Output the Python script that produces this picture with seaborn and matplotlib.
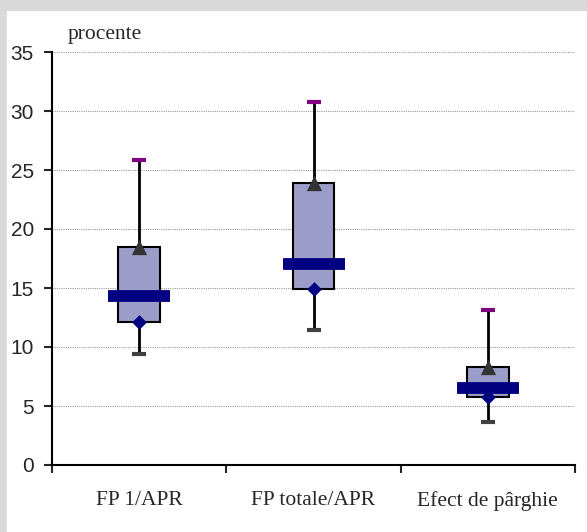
import seaborn as sns
import matplotlib.pyplot as plt
import pandas as pd
from matplotlib.patches import Rectangle
from matplotlib.ticker import FixedLocator

# five-number summaries (procente)
categories = ["FP 1/APR", "FP totale/APR", "Efect de pârghie"]
minimum = [9.4, 11.45, 3.65]
q1 = [12.1, 14.9, 5.8]
median = [14.3, 17.0, 6.5]
q3 = [18.45, 23.9, 8.3]
maximum = [25.85, 30.75, 13.1]
yticks = [0, 5, 10, 15, 20, 25, 30, 35]

# long table: the five numbers per category give exactly these quartiles
rows = []
for i, cat in enumerate(categories):
    for v in (minimum[i], q1[i], median[i], q3[i], maximum[i]):
        rows.append({"cat": cat, "val": v})
df = pd.DataFrame(rows)

sns.set_style('white')

fig = plt.figure(figsize=(5.87, 5.32), dpi=100, facecolor='#D9D9D9')
fig.patches.append(Rectangle((7 / 587, 0), 1, 521 / 532, transform=fig.transFigure,
                             facecolor='white', edgecolor='none', zorder=-10))
ax = fig.add_axes([52 / 587, 67 / 532, 523 / 587, 413 / 532])
ax.set_facecolor('none')

sns.boxplot(data=df, x='cat', y='val', order=categories, whis=(0, 100), width=0.24,
            color='#9C9CC8', saturation=1, linecolor='black', linewidth=1.5,
            showcaps=False, medianprops={'linewidth': 0},
            whiskerprops={'linewidth': 2}, ax=ax, zorder=3)

# median band, caps and markers
sns.stripplot(x=categories, y=median, order=categories, jitter=False, marker='_',
              size=45, linewidth=8.5, color='#000080', ax=ax, zorder=5)
sns.stripplot(x=categories, y=maximum, order=categories, jitter=False, marker='_',
              size=10, linewidth=3, color='#800080', ax=ax, zorder=4)
sns.stripplot(x=categories, y=minimum, order=categories, jitter=False, marker='_',
              size=10, linewidth=3, color='#404040', ax=ax, zorder=4)
sns.stripplot(x=categories, y=q3, order=categories, jitter=False, marker='^',
              size=11, linewidth=0, color='#333333', ax=ax, zorder=6)
sns.stripplot(x=categories, y=q1, order=categories, jitter=False, marker='D',
              size=7.5, linewidth=0, color='#000080', ax=ax, zorder=6)

ax.set_xlim(-0.5, len(categories) - 0.5)
ax.set_ylim(0, 35)
ax.set_xlabel('')
ax.set_ylabel('')

ax.set_yticks(yticks)
ax.set_yticklabels([str(t) for t in yticks], family='Liberation Sans', fontsize=15)
ax.tick_params(axis='y', direction='out', length=6, width=1.5, pad=7, left=True)
ax.yaxis.grid(True, linestyle=(0, (1, 1)), color='#999999', linewidth=0.8, zorder=0)
ax.set_axisbelow(True)

ax.xaxis.set_major_locator(FixedLocator([-0.5, 0.5, 1.5, 2.5]))
ax.xaxis.set_minor_locator(FixedLocator(range(len(categories))))
ax.set_xticklabels([], minor=False)
ax.set_xticklabels(categories, minor=True, family='Liberation Serif', fontsize=15.5)
ax.tick_params(axis='x', which='major', direction='out', length=6, width=1.5, bottom=True)
ax.tick_params(axis='x', which='minor', length=0, pad=19)

for s in ['top', 'right']:
    ax.spines[s].set_visible(False)
for s in ['left', 'bottom']:
    ax.spines[s].set_linewidth(1.5)
    ax.spines[s].set_color('black')

fig.text(68 / 587, 1 - 34 / 532, 'procente', family='Liberation Serif', fontsize=15.5,
         va='center', ha='left')

fig.savefig('out.png', dpi=100, facecolor=fig.get_facecolor())
